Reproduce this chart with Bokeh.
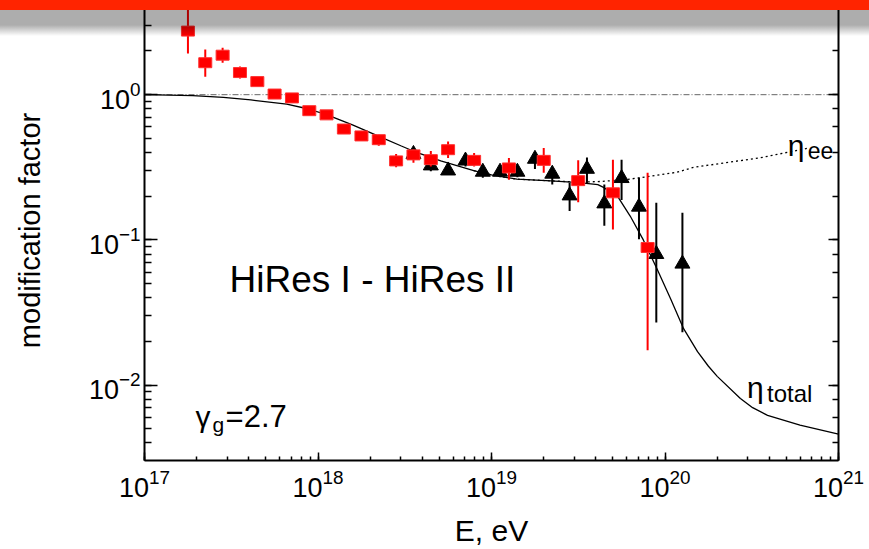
from bokeh.plotting import figure
from bokeh.models import LogAxis, Label, Range1d, InlineStyleSheet, LogTicker
from bokeh.embed import file_html
from bokeh.resources import INLINE

# ---- HiRes I (red squares) ----
hires1_E = [1.78e17, 2.24e17, 2.82e17, 3.55e17, 4.47e17, 5.62e17, 7.08e17, 8.91e17,
            1.12e18, 1.41e18, 1.78e18, 2.24e18, 2.82e18, 3.55e18, 4.47e18, 5.62e18,
            7.94e18, 1.26e19, 2.0e19, 3.16e19, 5.01e19, 7.94e19]
hires1_eta = [2.74, 1.66, 1.87, 1.42, 1.23, 1.01, 0.95, 0.776,
              0.726, 0.58, 0.52, 0.49, 0.35, 0.385, 0.357, 0.418,
              0.353, 0.313, 0.353, 0.256, 0.211, 0.0887]
hires1_lo = [1.92, 1.33, 1.66, 1.29, 1.15, 0.94, 0.92, 0.75,
             0.70, 0.54, 0.48, 0.445, 0.316, 0.34, 0.32, 0.366,
             0.32, 0.26, 0.29, 0.182, 0.118, 0.0174]
hires1_hi = [6.0, 2.05, 2.1, 1.56, 1.31, 1.09, 0.98, 0.80,
             0.75, 0.62, 0.56, 0.53, 0.39, 0.42, 0.41, 0.476,
             0.397, 0.366, 0.43, 0.353, 0.357, 0.29]

# ---- HiRes II (black triangles) ----
hires2_E = [3.55e18, 4.47e18, 5.62e18, 7.08e18, 8.91e18, 1.12e19, 1.41e19, 1.78e19,
            2.24e19, 2.82e19, 3.55e19, 4.47e19, 5.62e19, 7.08e19, 8.91e19, 1.26e20]
hires2_eta = [0.39, 0.325, 0.30, 0.351, 0.294, 0.294, 0.294, 0.361,
              0.285, 0.202, 0.308, 0.178, 0.266, 0.169, 0.0798, 0.0685]
hires2_lo = [0.37, 0.297, 0.29, 0.32, 0.268, 0.27, 0.27, 0.308,
             0.241, 0.158, 0.247, 0.125, 0.188, 0.101, 0.027, 0.0231]
hires2_hi = [0.41, 0.348, 0.31, 0.366, 0.31, 0.31, 0.31, 0.397,
             0.308, 0.247, 0.37, 0.241, 0.357, 0.268, 0.18, 0.154]

# ---- eta_total curve ----
total_E = [1.0e17, 1.9e17, 2.85e17, 4.1e17, 6.6e17, 8.7e17, 1.12e18, 1.58e18, 2.3e18,
           3.0e18, 3.7e18, 5.1e18, 7.9e18, 1.0e19, 1.4e19, 2.2e19, 3.2e19, 4.1e19,
           4.42e19, 5.32e19, 6.3e19, 7.5e19, 9.0e19, 1.08e20, 1.28e20, 1.54e20, 1.78e20,
           2.0e20, 2.72e20, 3.2e20, 3.9e20, 6.0e20, 1.0e21]
total_eta = [1.0, 0.984, 0.959, 0.92, 0.86, 0.80, 0.73, 0.62, 0.51,
             0.445, 0.40, 0.35, 0.30, 0.28, 0.262, 0.255, 0.248, 0.240,
             0.23, 0.20, 0.146, 0.10, 0.063, 0.039, 0.0245, 0.017, 0.0135,
             0.0115, 0.0081, 0.0070, 0.0062, 0.0053, 0.0046]

# ---- eta_ee curve ----
ee_E = [7.9e18, 1.0e19, 1.4e19, 2.2e19, 3.2e19, 4.1e19, 6.0e19, 1.17e20, 1.46e20, 3.55e20, 6.8e20]
ee_eta = [0.30, 0.28, 0.262, 0.255, 0.250, 0.252, 0.26, 0.292, 0.316, 0.368, 0.43]

# ---- reference line at 1 ----
ref_E = [1e17, 1e21]
ref_eta = [1.0, 1.0]

FONT = "Liberation Sans"

p = figure(width=869, height=549, x_axis_type="log", y_axis_type="log",
           x_range=Range1d(1e17, 1e21), y_range=Range1d(0.00303, 4.45),
           output_backend="svg", toolbar_location=None,
           min_border_left=144, min_border_right=31, min_border_top=0, min_border_bottom=86)
p.outline_line_color = None
p.grid.visible = False
p.background_fill_color = "white"
p.border_fill_color = "white"

for ax in (p.xaxis[0], p.yaxis[0]):
    ax.axis_line_width = 2
    ax.major_tick_line_width = 1.5
    ax.minor_tick_line_width = 1.5
    ax.major_tick_out = 0
    ax.minor_tick_out = 0
    ax.major_label_text_font = FONT
    ax.major_label_text_font_size = "27px"
    ax.major_label_text_color = "black"
    ax.axis_label_text_font = FONT
    ax.axis_label_text_font_style = "normal"
    ax.axis_label_text_color = "black"

p.xaxis.major_tick_in = 8
p.xaxis.minor_tick_in = 4
p.yaxis.major_tick_in = 13
p.yaxis.minor_tick_in = 7
p.xaxis.axis_label = "E, eV"
p.xaxis.axis_label_text_font_size = "30px"
p.xaxis.major_label_standoff = 8
p.xaxis.axis_label_standoff = 14
p.yaxis.axis_label = "modification factor"
p.yaxis.axis_label_text_font_size = "29px"
p.yaxis.major_label_standoff = 4
p.yaxis.axis_label_standoff = 40

right = LogAxis(ticker=LogTicker(), axis_line_width=2, major_tick_in=10, minor_tick_in=6,
                major_tick_out=0, minor_tick_out=0, major_tick_line_width=1.5,
                minor_tick_line_width=1.5, major_label_text_font_size="1px",
                major_label_text_alpha=0, major_label_standoff=0)
p.add_layout(right, "right")

# reference line
p.line(ref_E, ref_eta, line_color="#666666", line_width=1, line_dash="6 2 1 2")
# curves
p.line(total_E, total_eta, line_color="black", line_width=1.3)
p.line(ee_E, ee_eta, line_color="black", line_width=1.3, line_dash="2 3")

# HiRes II
p.segment(hires2_E, hires2_lo, hires2_E, hires2_hi, line_color="black", line_width=2)
p.scatter(hires2_E, hires2_eta, marker="triangle", size=15, fill_color="black",
          line_color="black")
# HiRes I
p.segment(hires1_E, hires1_lo, hires1_E, hires1_hi, line_color="#ff0000", line_width=2)
p.rect(hires1_E, hires1_eta, width=13, height=10, width_units="screen",
       height_units="screen", fill_color="#ff0000", line_color="#ff3030", line_width=1)

# labels
def lab(x, y, text, size, dx=0, dy=0, align="left", baseline="alphabetic"):
    p.add_layout(Label(x=x, y=y, x_offset=dx, y_offset=dy, text=text,
                       text_align=align, text_baseline=baseline, text_font=FONT,
                       text_font_size=size, text_color="black"))

lab(2.06e18, 0.053, "HiRes I - HiRes II", "37px", align="center", baseline="middle")
lab(1.97e17, 0.0061, "\u03b3", "30px")
lab(1.97e17, 0.0061, "g", "21px", dx=17, dy=-8)
lab(1.97e17, 0.0061, "=2.7", "31px", dx=30)
lab(5.1e20, 0.45, "\u03b7", "30px")
lab(5.1e20, 0.45, "ee", "23px", dx=20, dy=-5)
lab(2.97e20, 0.0097, "\u03b7", "30px")
lab(2.97e20, 0.0097, "total", "24px", dx=20, dy=-6)

p.stylesheets = [InlineStyleSheet(css="""
:host { position: relative; }
:host::after {
  content: ""; position: absolute; left: 0; top: 0; width: 100%; height: 36px;
  pointer-events: none; z-index: 10;
  background: linear-gradient(to bottom, #ff2400 0px, #ff2400 10px,
              rgba(0,0,0,0.32) 10px, rgba(0,0,0,0.32) 25px, rgba(0,0,0,0) 36px);
}
""")]

open("out.html", "w").write(file_html(p, INLINE))
